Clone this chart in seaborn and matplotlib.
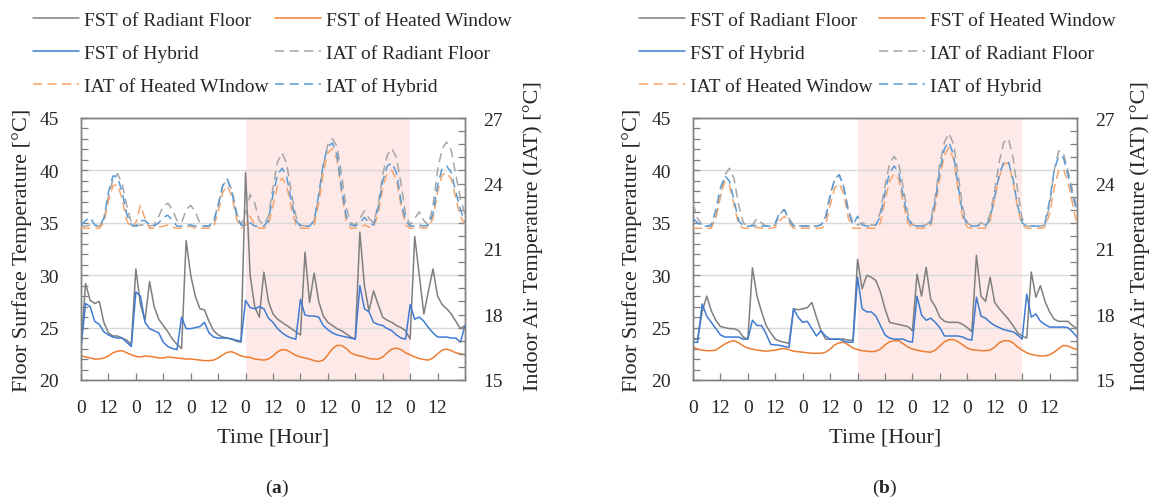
import numpy as np
import pandas as pd
import matplotlib
matplotlib.use("Agg")
import matplotlib.pyplot as plt
from matplotlib.ticker import FixedLocator, MultipleLocator, NullFormatter
import seaborn as sns

# ---------------------------------------------------------------- data
hours = list(range(0, 169, 2))
day_ticks = list(range(0, 169, 12))
tick_labels = ["0", "12"] * 7
shade_span = (72, 144)

# (a) floor surface temperature [degC]
a_fst_rf = [23.1, 29.2, 27.6, 27.3, 27.5, 25.5, 24.5, 24.2, 24.2, 24.0,
            23.8, 23.4, 30.6, 27.2, 25.7, 29.4, 27.0, 25.8, 25.2, 24.6,
            23.9, 23.4, 23.0, 33.3, 30.0, 28.0, 26.8, 26.7, 25.6, 24.7,
            24.3, 24.1, 24.0, 23.9, 23.7, 23.6, 39.8, 30.0, 27.0, 26.0,
            30.3, 27.5, 26.3, 25.8, 25.5, 25.2, 24.9, 24.6, 24.3, 32.2,
            27.4, 30.2, 27.5, 26.1, 25.5, 25.2, 24.9, 24.7, 24.4, 24.1,
            23.9, 34.1, 29.0, 26.6, 28.5, 27.2, 26.0, 25.7, 25.5, 25.2,
            25.0, 24.7, 23.9, 33.7, 30.0, 26.3, 28.5, 30.6, 28.0, 27.2,
            26.8, 26.3, 25.6, 24.9, 25.2]
a_fst_hw = [22.3, 22.2, 22.1, 22.0, 22.0, 22.1, 22.3, 22.6, 22.75, 22.8,
            22.6, 22.4, 22.25, 22.2, 22.3, 22.25, 22.2, 22.1, 22.1, 22.2,
            22.15, 22.1, 22.05, 22.0, 22.0, 21.95, 21.9, 21.85, 21.85, 21.9,
            22.1, 22.4, 22.65, 22.7, 22.5, 22.3, 22.2, 22.15, 22.0, 21.95,
            21.9, 22.0, 22.3, 22.7, 22.9, 22.85, 22.6, 22.35, 22.2, 22.1,
            22.0, 21.85, 21.75, 21.9, 22.4, 23.0, 23.3, 23.3, 23.0, 22.6,
            22.4, 22.3, 22.2, 22.05, 22.0, 22.0, 22.2, 22.6, 22.95, 23.05,
            22.9, 22.6, 22.4, 22.2, 22.05, 21.95, 21.9, 22.1, 22.5, 22.85,
            22.95, 22.8, 22.6, 22.5, 22.4]
a_fst_hy = [23.1, 27.3, 27.0, 25.6, 25.3, 24.6, 24.3, 24.1, 24.0, 24.0,
            23.6, 23.2, 28.4, 28.0, 25.5, 24.9, 24.7, 24.5, 23.6, 23.2,
            23.0, 22.9, 26.0, 24.9, 24.9, 25.0, 25.1, 25.5, 24.5, 24.1,
            24.0, 24.0, 24.0, 23.9, 23.8, 23.7, 27.6, 26.9, 26.8, 27.0,
            26.8, 25.9, 25.5, 24.9, 24.5, 24.2, 24.0, 23.9, 27.7, 26.2,
            26.1, 26.1, 26.0, 25.2, 24.8, 24.5, 24.3, 24.2, 24.1, 24.0,
            23.9, 29.0, 26.8, 26.5, 25.5, 25.3, 25.2, 24.9, 24.7, 24.3,
            24.0, 23.9, 27.2, 25.8, 26.0, 25.6, 25.0, 24.5, 24.1, 24.1,
            24.1, 24.0, 24.0, 23.6, 25.2]
# (a) indoor air temperature [degC]
a_iat_rf = [22.05, 22.05, 22.1, 22.05, 22.05, 22.3, 23.4, 24.2, 24.45, 24.0,
            23.0, 22.2, 22.05, 22.1, 22.1, 22.05, 22.1, 22.5, 22.95, 23.1,
            22.8, 22.3, 22.2, 22.8, 23.0, 22.7, 22.2, 22.05, 22.05, 22.3,
            23.0, 23.9, 24.2, 23.7, 22.7, 22.1, 22.6, 23.5, 23.1, 22.3,
            22.1, 22.5, 23.8, 25.0, 25.4, 24.9, 23.6, 22.5, 22.1, 22.05,
            22.05, 22.3, 23.4, 24.8, 25.8, 26.05, 25.7, 24.4, 22.9, 22.2,
            22.1, 22.4, 22.75, 22.4, 22.2, 23.0, 24.4, 25.3, 25.6, 25.2,
            24.0, 22.6, 22.1, 22.4, 22.7, 22.3, 22.1, 23.0, 24.6, 25.6,
            25.9, 25.5, 24.4, 23.3, 22.6]
a_iat_hw = [21.95, 21.95, 21.95, 21.95, 21.95, 22.2, 23.2, 23.9, 23.95, 23.3,
            22.3, 21.95, 22.2, 23.0, 22.4, 21.95, 21.95, 22.0, 22.05, 22.1,
            22.0, 21.95, 21.95, 22.0, 22.05, 21.95, 21.95, 21.95, 21.95, 22.0,
            22.7, 23.6, 23.9, 23.4, 22.4, 21.95, 22.1, 22.5, 22.1, 21.95,
            21.95, 22.1, 23.0, 23.9, 24.25, 23.9, 22.9, 22.1, 21.95, 21.95,
            21.95, 22.1, 23.1, 24.5, 25.4, 25.6, 25.1, 23.6, 22.3, 21.95,
            21.95, 22.0, 22.1, 22.0, 22.0, 22.6, 23.8, 24.5, 24.6, 24.2,
            23.0, 22.1, 21.95, 21.95, 22.0, 21.95, 22.0, 22.4, 23.6, 24.4,
            24.5, 24.2, 23.3, 22.5, 22.1]
a_iat_hy = [22.1, 22.3, 22.45, 22.1, 22.05, 22.4, 23.6, 24.35, 24.3, 23.6,
            22.6, 22.1, 22.05, 22.3, 22.3, 22.1, 22.05, 22.2, 22.45, 22.55,
            22.3, 22.05, 22.05, 22.1, 22.1, 22.05, 22.05, 22.05, 22.05, 22.2,
            23.0, 23.9, 24.2, 23.6, 22.6, 22.1, 22.05, 22.2, 22.05, 22.05,
            22.05, 22.3, 23.5, 24.4, 24.7, 24.3, 23.2, 22.3, 22.05, 22.05,
            22.05, 22.3, 23.5, 24.9, 25.7, 25.85, 25.3, 23.8, 22.5, 22.1,
            22.05, 22.2, 22.45, 22.2, 22.1, 22.9, 24.1, 24.8, 24.95, 24.5,
            23.2, 22.3, 22.05, 22.05, 22.1, 22.05, 22.1, 22.6, 23.9, 24.7,
            24.8, 24.5, 23.6, 22.8, 22.2]

# (b) floor surface temperature [degC]
b_fst_rf = [23.9, 23.9, 26.5, 28.0, 26.6, 25.7, 25.1, 25.0, 24.9, 24.9,
            24.7, 24.1, 23.9, 30.7, 28.0, 26.5, 25.2, 24.5, 23.9, 23.7,
            23.6, 23.5, 26.8, 26.7, 26.8, 26.9, 27.4, 26.0, 24.7, 23.9,
            23.9, 23.9, 23.9, 23.9, 23.8, 23.8, 31.5, 28.7, 30.0, 29.8,
            29.5, 28.4, 26.8, 25.5, 25.4, 25.3, 25.2, 25.1, 24.7, 30.1,
            28.0, 30.75, 27.7, 27.0, 26.0, 25.6, 25.5, 25.5, 25.5, 25.3,
            25.0, 24.6, 31.9, 28.0, 27.5, 29.8, 27.4, 26.8, 26.3, 25.8,
            25.2, 24.5, 24.2, 24.0, 30.3, 27.9, 29.0, 27.5, 26.5, 25.8,
            25.6, 25.6, 25.6, 25.2, 24.9]
b_fst_hw = [23.15, 22.95, 22.85, 22.8, 22.8, 22.85, 23.15, 23.45, 23.65, 23.75,
            23.55, 23.25, 23.05, 22.95, 22.85, 22.8, 22.75, 22.8, 22.85, 22.95,
            23.0, 22.9, 22.75, 22.7, 22.65, 22.6, 22.55, 22.55, 22.55, 22.65,
            22.95, 23.35, 23.55, 23.6, 23.35, 23.05, 22.9, 22.8, 22.75, 22.7,
            22.75, 22.95, 23.35, 23.65, 23.75, 23.75, 23.45, 23.15, 22.95, 22.85,
            22.75, 22.7, 22.65, 22.85, 23.25, 23.65, 23.85, 23.85, 23.65, 23.35,
            23.05, 22.9, 22.85, 22.8, 22.8, 22.85, 23.15, 23.55, 23.75, 23.75,
            23.55, 23.15, 22.85, 22.6, 22.45, 22.35, 22.3, 22.3, 22.4, 22.65,
            23.0, 23.3, 23.25, 23.05, 22.9]
b_fst_hy = [23.6, 23.6, 27.25, 26.1, 25.5, 24.9, 24.3, 24.1, 24.1, 24.1,
            24.1, 23.9, 23.9, 25.7, 25.2, 25.2, 24.4, 23.4, 23.35, 23.3,
            23.2, 23.1, 26.8, 26.0, 25.5, 25.6, 24.9, 24.2, 24.7, 24.2,
            23.9, 23.9, 23.9, 23.7, 23.6, 23.6, 29.8, 26.8, 26.5, 26.5,
            26.1, 25.2, 24.3, 24.0, 23.9, 23.9, 23.9, 23.7, 23.6, 28.0,
            26.2, 25.7, 25.9, 25.5, 25.0, 24.2, 24.2, 24.2, 24.2, 24.1,
            23.9, 23.8, 27.9, 26.1, 25.9, 25.5, 25.2, 25.0, 24.8, 24.7,
            24.6, 24.3, 23.9, 28.2, 26.0, 26.3, 25.6, 25.3, 25.05, 25.05,
            25.05, 25.05, 25.0, 24.6, 24.1]
# (b) indoor air temperature [degC]
b_iat_rf = [23.1, 22.4, 22.1, 22.05, 22.05, 22.4, 23.4, 24.4, 24.7, 24.2,
            23.0, 22.2, 22.05, 22.1, 22.4, 22.2, 22.05, 22.05, 22.1, 22.6,
            22.8, 22.4, 22.1, 22.05, 22.05, 22.05, 22.05, 22.05, 22.1, 22.5,
            23.5, 24.2, 24.4, 23.8, 22.8, 22.2, 22.1, 22.2, 22.1, 22.1,
            22.1, 22.7, 23.9, 24.9, 25.25, 24.9, 23.8, 22.6, 22.1, 22.05,
            22.05, 22.1, 22.3, 23.4, 24.9, 25.9, 26.3, 25.8, 24.4, 22.9,
            22.2, 22.05, 22.05, 22.2, 22.1, 22.6, 23.7, 25.0, 25.9, 26.05,
            25.2, 23.7, 22.4, 22.05, 22.05, 22.05, 22.05, 22.1, 23.0, 24.6,
            25.5, 25.4, 24.6, 23.7, 22.85]
b_iat_hw = [21.95, 21.95, 21.95, 21.95, 21.95, 22.5, 23.5, 24.1, 23.9, 23.0,
            22.1, 21.95, 21.95, 21.95, 22.0, 21.95, 21.95, 21.95, 22.0, 22.3,
            22.5, 22.2, 21.95, 21.95, 21.95, 21.95, 21.95, 21.95, 21.95, 22.1,
            23.0, 23.8, 24.0, 23.5, 22.4, 21.95, 21.95, 21.95, 21.95, 21.95,
            21.95, 22.2, 23.2, 24.1, 24.45, 24.2, 23.1, 22.2, 21.95, 21.95,
            21.95, 21.95, 22.1, 22.9, 24.3, 25.3, 25.65, 25.1, 23.7, 22.4,
            22.0, 21.95, 21.95, 21.95, 21.95, 22.3, 23.3, 24.3, 24.9, 24.95,
            24.1, 22.9, 22.1, 21.95, 21.95, 21.95, 21.95, 22.0, 22.6, 23.8,
            24.6, 24.67, 24.1, 23.1, 22.1]
b_iat_hy = [22.4, 22.2, 22.05, 22.05, 22.1, 22.8, 23.8, 24.35, 24.1, 23.2,
            22.3, 22.05, 22.05, 22.05, 22.1, 22.05, 22.05, 22.05, 22.2, 22.7,
            22.8, 22.3, 22.05, 22.05, 22.05, 22.05, 22.05, 22.05, 22.1, 22.4,
            23.4, 24.2, 24.4, 23.8, 22.7, 22.1, 22.5, 22.1, 22.05, 22.05,
            22.1, 22.5, 23.6, 24.5, 24.8, 24.5, 23.4, 22.4, 22.05, 22.05,
            22.05, 22.05, 22.2, 23.2, 24.6, 25.6, 25.9, 25.3, 23.9, 22.6,
            22.1, 22.05, 22.05, 22.1, 22.05, 22.4, 23.4, 24.4, 25.0, 25.0,
            24.2, 23.0, 22.2, 22.05, 22.05, 22.05, 22.05, 22.2, 23.2, 24.6,
            25.27, 25.2, 24.4, 23.5, 22.7]

# ---------------------------------------------------------------- style
sns.set_theme(style="white")
plt.rcParams["font.family"] = ["Liberation Serif", "DejaVu Serif"]
plt.rcParams["mathtext.fontset"] = "custom"
plt.rcParams["mathtext.rm"] = "Liberation Serif"
plt.rcParams["mathtext.bf"] = "Liberation Serif:bold"

FS = 14          # tick labels, legend, caption
FS_LAB = 16      # axis titles
SPINE = "#7f7f7f"
GRID = "#d9d9d9"
SHADE = "#fdeae8"
DASH = (0, (6, 3.5))

series_style = {
    "FST of Radiant Floor": dict(color="#7f7f7f", ls="-"),
    "FST of Heated Window": dict(color="#ed7d31", ls="-"),
    "FST of Hybrid": dict(color="#3f7bd2", ls="-"),
    "IAT of Radiant Floor": dict(color="#a6a6a6", ls=DASH),
    "IAT of Heated Window": dict(color="#f5a66e", ls=DASH),
    "IAT of Hybrid": dict(color="#5b9bd5", ls=DASH),
}

panels = [
    dict(left=81, tag="a", hw_label="IAT of Heated WIndow",
         fst={"FST of Radiant Floor": a_fst_rf, "FST of Heated Window": a_fst_hw,
              "FST of Hybrid": a_fst_hy},
         iat={"IAT of Radiant Floor": a_iat_rf, "IAT of Heated Window": a_iat_hw,
              "IAT of Hybrid": a_iat_hy},
         legend_x=33, ylab_l=-0.128, ylab_r=1.150, cap_x=277),
    dict(left=693, tag="b", hw_label="IAT of Heated Window",
         fst={"FST of Radiant Floor": b_fst_rf, "FST of Heated Window": b_fst_hw,
              "FST of Hybrid": b_fst_hy},
         iat={"IAT of Radiant Floor": b_iat_rf, "IAT of Heated Window": b_iat_hw,
              "IAT of Hybrid": b_iat_hy},
         legend_x=639, ylab_l=-0.133, ylab_r=1.138, cap_x=885),
]

W, H = 1158, 502
fig = plt.figure(figsize=(W / 100, H / 100), dpi=100)
AX_W, AX_H, AX_BOTTOM = 384, 262, 121

for p in panels:
    ax = fig.add_axes([p["left"] / W, AX_BOTTOM / H, AX_W / W, AX_H / H])
    ax2 = ax.twinx()

    ax.axvspan(*shade_span, color=SHADE, lw=0, zorder=0)
    handles = {}
    for name, vals in p["fst"].items():
        st = series_style[name]
        sns.lineplot(x=hours, y=vals, ax=ax, color=st["color"], linestyle=st["ls"],
                     lw=1.1, zorder=3)
        handles[name] = ax.lines[-1]
    for name, vals in p["iat"].items():
        st = series_style[name]
        sns.lineplot(x=hours, y=vals, ax=ax2, color=st["color"], linestyle=st["ls"],
                     lw=1.1, zorder=3)
        handles[name] = ax2.lines[-1]

    # axes limits / ticks
    ax.set_xlim(0, 168)
    ax.set_ylim(20, 45)
    ax2.set_ylim(15, 27)
    ax.set_xticks(day_ticks[:-1])
    ax.set_xticklabels(tick_labels)
    ax.set_yticks([20, 25, 30, 35, 40, 45])
    ax.yaxis.set_minor_locator(MultipleLocator(1))
    ax2.set_yticks([15, 18, 21, 24, 27])
    ax2.yaxis.set_minor_locator(FixedLocator(np.linspace(15, 27, 21)))
    ax2.yaxis.set_minor_formatter(NullFormatter())

    ax.grid(axis="y", which="major", color=GRID, lw=1.0, zorder=1)
    ax.set_axisbelow(True)
    ax.tick_params(axis="x", which="both", direction="in", length=5, width=0.9,
                   color=SPINE, labelsize=FS, pad=14, bottom=True, top=False)
    ax.tick_params(axis="y", which="both", direction="in", length=5, width=0.9,
                   color=SPINE, labelsize=FS, pad=16, left=True, right=False)
    ax2.tick_params(axis="y", which="both", direction="in", length=5, width=0.9,
                    color=SPINE, labelsize=FS, pad=13, right=True, left=False)
    for a in (ax, ax2):
        for s in a.spines.values():
            s.set_color(SPINE)
            s.set_linewidth(1.0)
            s.set_visible(True)
    ax.patch.set_visible(True)
    ax2.patch.set_visible(False)

    ax.set_xlabel("Time [Hour]", fontsize=FS_LAB)
    ax.xaxis.set_label_coords(0.5, -0.183)
    ax.set_ylabel("Floor Surface Temperature [°C]", fontsize=FS_LAB)
    ax.yaxis.set_label_coords(p["ylab_l"], 0.5)
    ax2.set_ylabel("Indoor Air Temperature (IAT) [°C]", fontsize=FS_LAB)
    ax2.yaxis.set_label_coords(p["ylab_r"], 0.555)

    # legend, column-major order for two columns
    order = ["FST of Radiant Floor", "FST of Hybrid", "IAT of Heated Window",
             "FST of Heated Window", "IAT of Radiant Floor", "IAT of Hybrid"]
    labels = [p["hw_label"] if n == "IAT of Heated Window" else n for n in order]
    ax2.legend([handles[n] for n in order], labels, ncol=2, loc="upper left",
               bbox_to_anchor=(p["legend_x"] / W, 1 - 12 / H),
               bbox_transform=fig.transFigure, frameon=False, fontsize=FS,
               borderpad=0, borderaxespad=0, handlelength=2.35,
               handletextpad=0.25, columnspacing=0.35, labelspacing=0.8)

    fig.text(p["cap_x"] / W, 1 - 488 / H, r"($\mathbf{%s}$)" % p["tag"],
             ha="center", va="center", fontsize=FS)

fig.savefig("out.png", dpi=100)
